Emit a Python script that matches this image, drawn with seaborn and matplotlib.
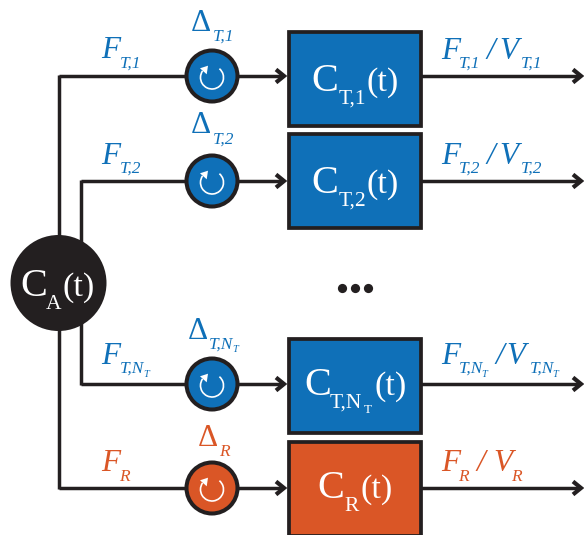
import matplotlib
matplotlib.use("Agg")
import matplotlib.pyplot as plt
import pandas as pd
import seaborn as sns
from matplotlib.patches import Arc, Circle, Polygon, Rectangle

sns.set_theme(style="white")
plt.rcParams["font.family"] = ["Liberation Serif", "DejaVu Serif"]

# one entry per compartment, top to bottom
row_y = [76, 181, 384, 488]
row_sub = ["T,1", "T,2", "T,N", "R"]
row_subsub = ["", "", "T", ""]
row_color = ["blue", "blue", "blue", "orange"]
box_top = [31.5, 133.5, 338.5, 441.5]
box_bottom = [125.5, 227.5, 432.5, 536.0]
branch_x = [58.5, 81, 81, 58.5]

colors = {"blue": "#0F70B8", "orange": "#DA5626", "black": "#231F20", "white": "#FFFFFF"}

fig = plt.figure(figsize=(5.84, 5.35), dpi=100)
ax = fig.add_axes([0, 0, 1, 1])
ax.set_xlim(0, 584)
ax.set_ylim(535, 0)
ax.axis("off")

LW = 2.5
BIG = 22.5


def wire(xs, ys, zorder=1, lw=LW):
    df = pd.DataFrame({"x": xs, "y": ys})
    sns.lineplot(data=df, x="x", y="y", ax=ax, color=colors["black"], linewidth=lw,
                 sort=False, estimator=None, legend=False, zorder=zorder,
                 solid_joinstyle="miter", solid_capstyle="butt")
    ax.set_xlabel("")
    ax.set_ylabel("")


def chevron(tip, y):
    wire([tip - 8, tip, tip - 8], [y - 6.5, y, y + 6.5], zorder=2, lw=3)


def put(x, y, s, size, color, italic=False):
    ax.text(x, y, s, fontsize=size, color=colors[color], ha="left", va="baseline",
            style="italic" if italic else "normal", zorder=5)


def small(x, y, x2, y2, i):
    # subscript, and the second level subscript for N_T
    color = row_color[i]
    put(x, y, row_sub[i], 12.5, color, True)
    if row_subsub[i]:
        put(x2, y2, row_subsub[i], 7.5, color, True)


# wires behind everything
for i, y in enumerate(row_y):
    wire([branch_x[i], 283], [y, y])
    wire([421, 579], [y, y])
    chevron(284, y)
    chevron(581, y)
wire([58.5, 58.5], [row_y[0] - 1, row_y[3] + 1])
wire([81, 81], [row_y[1] - 1, row_y[2] + 1])

# arterial compartment
ax.add_patch(Circle((58.5, 283), 48, fc=colors["black"], ec="none", zorder=3))
put(20, 296, "C", 29, "white")
put(46, 309, "A", 15.5, "white")
put(63, 296, "(t)", 24.5, "white")

# boxes and pumps
for i, y in enumerate(row_y):
    c = colors[row_color[i]]
    ax.add_patch(Rectangle((288.5, box_top[i]), 132, box_bottom[i] - box_top[i], fc=c,
                           ec=colors["black"], lw=LW + 0.2, joinstyle="miter", zorder=3))
    ax.add_patch(Circle((212, y), 25.5, fc=c, ec=colors["black"], lw=LW + 0.4, zorder=3))
    ax.add_patch(Arc((212, y + 1.5), 23, 23, theta1=-50, theta2=215, color=colors["white"], lw=1.2, zorder=4))
    ax.add_patch(Polygon([[200, y - 7.7], [208, y - 10.3], [206.7, y - 1.7]], fc=colors["white"], ec="none", zorder=4))

# dots between the tissue rows
dots = pd.DataFrame({"x": [341.7, 355, 368.3], "y": [287.7, 287.7, 287.7]})
sns.scatterplot(data=dots, x="x", y="y", ax=ax, color=colors["black"], s=44, linewidth=0, legend=False)
ax.set_xlabel("")
ax.set_ylabel("")

# box labels
put(311, 91, "C", 29, "white")
put(339, 104, row_sub[0], 15.5, "white")
put(367, 91, "(t)", 24.5, "white")
put(311, 193, "C", 29, "white")
put(339, 206, row_sub[1], 15.5, "white")
put(367, 193, "(t)", 24.5, "white")
put(304, 395, "C", 29, "white")
put(330, 408, row_sub[2], 15.5, "white")
put(364, 413, row_subsub[2], 9.5, "white")
put(375, 395, "(t)", 24.5, "white")
put(317, 498, "C", 29, "white")
put(344, 511, row_sub[3], 15.5, "white")
put(360, 498, "(t)", 24.5, "white")

# flow labels on the left
put(101, 58, "F", BIG, "blue", True)
small(120, 68, 0, 0, 0)
put(101, 164, "F", BIG, "blue", True)
small(120, 173, 0, 0, 1)
put(101, 364, "F", BIG, "blue", True)
small(120, 373, 143.5, 377, 2)
put(101, 471, "F", BIG, "orange", True)
small(119, 481, 0, 0, 3)

# delta labels above the pumps
put(191, 31, "Δ", BIG, "blue")
small(213, 41, 0, 0, 0)
put(191, 133, "Δ", BIG, "blue")
small(213, 144, 0, 0, 1)
put(188, 339, "Δ", BIG, "blue")
small(209, 349, 232.5, 352, 2)
put(198, 446, "Δ", BIG, "orange")
small(219, 456, 0, 0, 3)

# outflow labels on the right
put(441, 59, "F", BIG, "blue", True)
small(459, 68, 0, 0, 0)
put(486, 59, "/", BIG, "blue", True)
put(499, 59, "V", BIG, "blue", True)
small(521, 68, 0, 0, 0)

put(441, 164, "F", BIG, "blue", True)
small(459, 173, 0, 0, 1)
put(486, 164, "/", BIG, "blue", True)
put(499, 164, "V", BIG, "blue", True)
small(521, 173, 0, 0, 1)

put(441, 364, "F", BIG, "blue", True)
small(459, 373, 481.5, 377, 2)
put(495, 364, "/", BIG, "blue", True)
put(506, 364, "V", BIG, "blue", True)
small(530, 373, 552.5, 377, 2)

put(441, 471, "F", BIG, "orange", True)
small(458, 481, 0, 0, 3)
put(476, 471, "/", BIG, "orange", True)
put(493, 471, "V", BIG, "orange", True)
small(511, 481, 0, 0, 3)

fig.savefig("out.png", dpi=100, facecolor="white")
